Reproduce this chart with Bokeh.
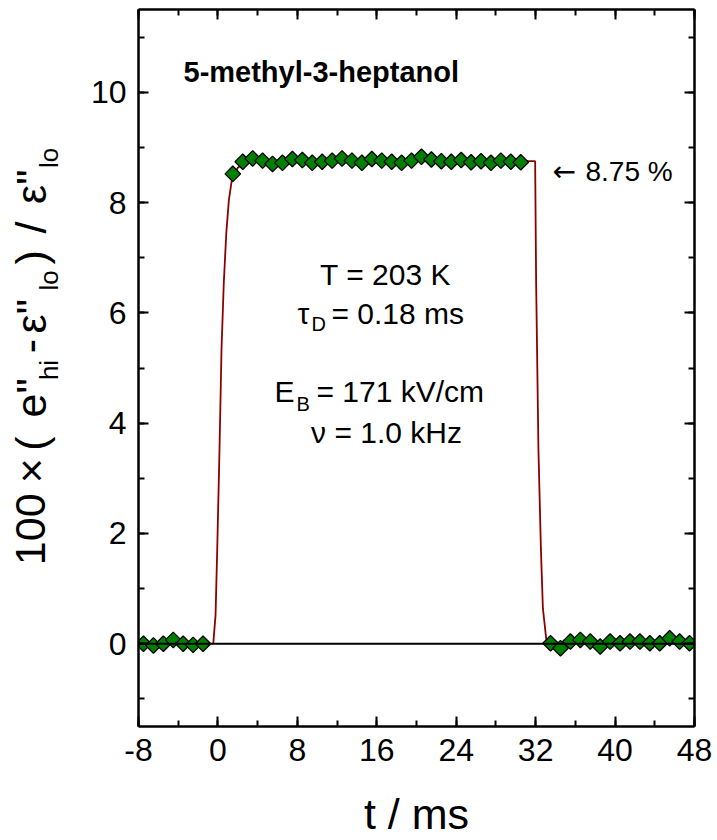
import math
from bokeh.plotting import figure
from bokeh.layouts import row
from bokeh.core.properties import value
from bokeh.models import Range1d, LinearAxis, FixedTicker, Span, Label, CustomJSTickFormatter
from bokeh.embed import file_html
from bokeh.resources import INLINE

# ---------------- data ----------------
t_pre = [-7.5, -6.5, -5.5, -4.5, -3.5, -2.5, -1.5]
y_pre = [0.0, -0.03, 0.0, 0.07, 0.0, -0.02, 0.0]

t_on = [1.5, 2.5, 3.5, 4.5, 5.5, 6.5, 7.5, 8.5, 9.5, 10.5,
        11.5, 12.5, 13.5, 14.5, 15.5, 16.5, 17.5, 18.5, 19.5, 20.5,
        21.5, 22.5, 23.5, 24.5, 25.5, 26.5, 27.5, 28.5, 29.5, 30.5]
y_on = [8.52, 8.74, 8.80, 8.76, 8.70, 8.72, 8.79, 8.77, 8.72, 8.74,
        8.76, 8.80, 8.76, 8.72, 8.79, 8.76, 8.74, 8.72, 8.76, 8.83,
        8.78, 8.75, 8.74, 8.77, 8.73, 8.75, 8.72, 8.76, 8.74, 8.73]

t_post = [33.5, 34.5, 35.5, 36.5, 37.5, 38.5, 39.5, 40.5,
          41.5, 42.5, 43.5, 44.5, 45.5, 46.5, 47.5]
y_post = [0.01, -0.08, 0.04, 0.07, 0.04, -0.05, 0.04, 0.01,
          0.04, 0.04, 0.01, 0.01, 0.10, 0.04, 0.01]

fit_t = [-0.47, -0.24, -0.07, 0.16, 0.36, 0.59, 0.84, 1.10, 1.44, 2.0, 2.5, 3.0, 4.0,
         31.95, 32.05, 32.28, 32.53, 32.73, 33.06, 33.19]
fit_y = [0.0, 0.52, 1.72, 3.53, 5.33, 6.54, 7.44, 8.04, 8.46, 8.63, 8.70, 8.73, 8.75,
         8.75, 6.54, 3.53, 1.72, 0.64, 0.10, 0.0]

x_major = [-8, 0, 8, 16, 24, 32, 40, 48]
x_minor = [-8, -4, 0, 4, 8, 12, 16, 20, 24, 28, 32, 36, 40, 44, 48]
y_major = [0, 2, 4, 6, 8, 10]
y_minor = [-1, 0, 1, 2, 3, 4, 5, 6, 7, 8, 9, 10, 11]

X0, X1 = -8, 48
Y0, Y1 = -1.5, 11.5

# ---------------- layout ----------------
W, H = 717, 840
LW = 70                      # strip that carries the rotated y title
BL, BR, BT, BB = 138, 23, 9, 111
FW, FH = W - BL - BR, H - BT - BB
FONT = "Liberation Sans"


def dx(px):
    return X0 + (px - BL) * (X1 - X0) / FW


def dy(py):
    return Y0 + (BT + FH - py) * (Y1 - Y0) / FH


p = figure(width=W - LW, height=H, x_range=Range1d(X0, X1), y_range=Range1d(Y0, Y1),
           output_backend="svg", toolbar_location=None,
           min_border_left=BL - LW, min_border_right=BR, min_border_top=BT, min_border_bottom=BB)
p.xgrid.visible = False
p.ygrid.visible = False
p.outline_line_color = None
p.background_fill_color = "white"
p.border_fill_color = "white"

bottom_ax = p.below[0]
left_ax = p.left[0]
top_ax = LinearAxis()
right_ax = LinearAxis()
p.add_layout(top_ax, "above")
p.add_layout(right_ax, "right")


def style_axis(ax, major, minor, labels=True):
    ax.ticker = FixedTicker(ticks=major, minor_ticks=minor)
    ax.axis_line_width = 2.5
    ax.axis_line_color = "black"
    ax.major_tick_in = 10
    ax.major_tick_out = 0
    ax.minor_tick_in = 6
    ax.minor_tick_out = 0
    ax.major_tick_line_width = 2
    ax.minor_tick_line_width = 2
    ax.major_tick_line_color = "black"
    ax.minor_tick_line_color = "black"
    ax.major_label_text_font = FONT
    ax.major_label_text_font_size = "32px"
    ax.major_label_text_color = "black"
    ax.major_label_standoff = 12
    if not labels:
        ax.formatter = CustomJSTickFormatter(code="return ''")
        ax.major_label_text_font_size = "0px"
        ax.major_label_standoff = 0


style_axis(bottom_ax, x_major, x_minor)
style_axis(left_ax, y_major, y_minor)
style_axis(top_ax, x_major, x_minor, labels=False)
style_axis(right_ax, y_major, y_minor, labels=False)
bottom_ax.major_label_overrides = {-8: "-8"}

bottom_ax.axis_label = "t / ms"
bottom_ax.axis_label_text_font = FONT
bottom_ax.axis_label_text_font_size = "43px"
bottom_ax.axis_label_text_font_style = "normal"
bottom_ax.axis_label_text_color = "black"
bottom_ax.axis_label_standoff = 26

# ---------------- marks ----------------
p.line(fit_t, fit_y, line_color="#8B0000", line_width=1.8)
for tt, yy in ((t_pre, y_pre), (t_on, y_on), (t_post, y_post)):
    p.scatter(tt, yy, marker="square", angle=math.pi / 4, size=11,
              fill_color="#008000", line_color="black", line_width=1.3)

p.add_layout(Span(location=0, dimension="width", line_color="black", line_width=2.2))


# ---------------- texts ----------------
def add_text(px, py, text, size, align="left", bold=False, font=FONT):
    p.add_layout(Label(x=dx(px), y=dy(py), text=text, text_font=font,
                       text_font_size=f"{size}px", text_color="black",
                       text_align=align, text_baseline="alphabetic",
                       text_font_style="bold" if bold else "normal"))


add_text(183, 72, "5-methyl-3-heptanol", 29, bold=True)

add_text(385, 275, "T = 203 K", 30, align="center")
add_text(297, 314, "\u03c4", 30)
add_text(311, 325, "D", 20)
add_text(331, 314, "= 0.18 ms", 30)

add_text(274, 393, "E", 30)
add_text(296, 405, "B", 20)
add_text(316, 393, "= 171 kV/cm", 30)
add_text(386, 434, "\u03bd = 1.0 kHz", 30, align="center")

add_text(552, 172, "\u2190", 28, font="DejaVu Sans")
add_text(585, 172, "8.75 %", 28)

# ---------------- rotated y title in its own strip (same vertical frame as p) ----------------
q = figure(width=LW, height=H, x_range=Range1d(0, LW), y_range=Range1d(Y0, Y1),
           output_backend="svg", toolbar_location=None,
           min_border_left=0, min_border_right=0, min_border_top=BT, min_border_bottom=BB,
           x_axis_location=None, y_axis_location=None)
q.xgrid.visible = False
q.ygrid.visible = False
q.outline_line_color = None
q.background_fill_color = "white"
q.border_fill_color = "white"

# piece, centre position along the page (pixels from top)
main_pieces = [("100", 531), ("\u00d7", 472), ("(", 445), ("e\"", 399), ("-", 347),
               ("\u03b5\"", 317), (")", 258), ("/", 228), ("\u03b5\"", 187)]
sub_pieces = [("hi", 371), ("lo", 281), ("lo", 158)]

q.text(x=[30] * len(main_pieces), y=[dy(c) for _, c in main_pieces],
       text=[t for t, _ in main_pieces], angle=math.pi / 2,
       text_font=value(FONT), text_font_size="43px", text_color="black",
       text_align="center", text_baseline="middle")
q.text(x=[48] * len(sub_pieces), y=[dy(c) for _, c in sub_pieces],
       text=[t for t, _ in sub_pieces], angle=math.pi / 2,
       text_font=value(FONT), text_font_size="26px", text_color="black",
       text_align="center", text_baseline="middle")

layout = row(q, p, spacing=0)
open("out.html", "w").write(file_html(layout, INLINE))
